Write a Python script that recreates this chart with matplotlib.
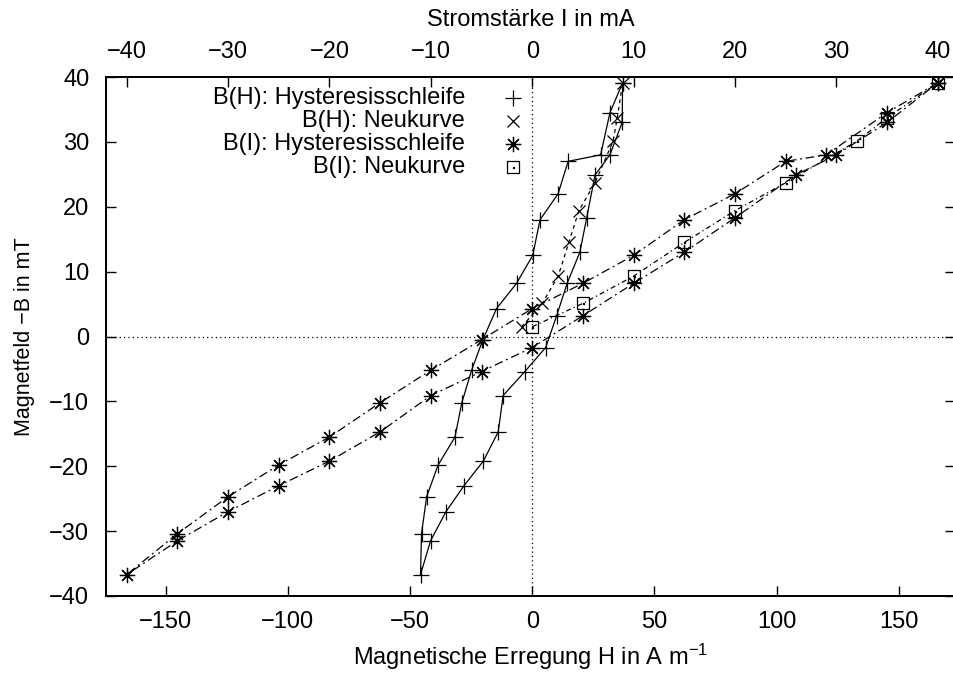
import numpy as np
import matplotlib
matplotlib.use("Agg")
import matplotlib.pyplot as plt
from matplotlib.path import Path

plt.rcParams['font.family'] = ['Liberation Sans', 'DejaVu Sans']
plt.rcParams['mathtext.fontset'] = 'custom'
plt.rcParams['mathtext.rm'] = 'Liberation Sans'
plt.rcParams['mathtext.default'] = 'regular'

# B(H) hysteresis loop (H in A/m)
h_loop = [37.0, 31.8, 28.0, 14.7, 10.6, 3.2, 0.2, -6.4, -14.6, -20.2, -24.8,
          -28.8, -31.6, -38.5, -43.2, -45.3, -45.7, -41.6, -35.3, -27.9, -20.0,
          -13.9, -11.9, -3.0, 5.5, 10.0, 14.3, 19.5, 22.3, 25.7, 31.8, 36.8, 37.0]
# B(I) hysteresis loop (I in mA)
i_loop = [40, 35, 29, 25, 20, 15, 10, 5, 0, -5, -10, -15, -20, -25, -30, -35,
          -40, -35, -30, -25, -20, -15, -10, -5, 0, 5, 10, 15, 20, 26, 30, 35, 40]
# measured field -B in mT (same for both loop plots)
b_loop = [39.1, 34.5, 28.0, 27.0, 22.0, 18.0, 12.5, 8.2, 4.3, -0.5, -5.2,
          -10.2, -15.5, -19.8, -24.7, -30.4, -36.7, -31.5, -27.0, -23.0, -19.2,
          -14.7, -9.1, -5.4, -1.7, 3.2, 8.2, 13.0, 18.3, 24.9, 28.0, 33.0, 39.1]

# virgin curve
h_virgin = [-4.3, 4.1, 10.6, 15.0, 19.1, 25.7, 33.1, 34.8, 37.0]
i_virgin = [0, 5, 10, 15, 20, 25, 32, 35, 40]
b_virgin = [1.5, 5.1, 9.3, 14.5, 19.4, 23.7, 30.1, 33.7, 39.1]

labels = ["B(H): Hysteresisschleife", "B(H): Neukurve",
          "B(I): Hysteresisschleife", "B(I): Neukurve"]

# square with a dot in the middle (gnuplot style)
sq = Path.make_compound_path(
    Path([(-1, -1), (1, -1), (1, 1), (-1, 1), (-1, -1)],
         [Path.MOVETO, Path.LINETO, Path.LINETO, Path.LINETO, Path.CLOSEPOLY]),
    Path([(-0.08, -0.08), (0.08, -0.08), (0.08, 0.08), (-0.08, 0.08), (-0.08, -0.08)],
         [Path.MOVETO, Path.LINETO, Path.LINETO, Path.LINETO, Path.CLOSEPOLY]))
star = (8, 2, 0)

styles = [
    dict(marker='+', ms=11, ls='-'),
    dict(marker='x', ms=8, ls=(0, (3, 3))),
    dict(marker=star, ms=11, ls=(0, (7, 3, 1.5, 3))),
    dict(marker=sq, ms=9, ls=(0, (4, 2.5, 1, 2.5))),
]

fig = plt.figure(figsize=(9.54, 6.73), dpi=100)
ax = fig.add_axes([106 / 954, 77 / 673, 849 / 954, 519 / 673])
ax2 = ax.twiny()

ax.axhline(0, color='black', lw=0.9, ls=(0, (1, 2.5)))
ax.axvline(0, color='black', lw=0.9, ls=(0, (1, 2.5)))

common = dict(color='black', lw=0.9, mfc='none', mew=0.9)
ax.plot(h_loop, b_loop, **styles[0], **common)
ax.plot(h_virgin, b_virgin, **styles[1], **common)
ax2.plot(i_loop, b_loop, **styles[2], **common)
ax2.plot(i_virgin, b_virgin, **styles[3], **common)

ax.set_xlim(-174.4, 173.0)
ax2.set_xlim(-42.04, 41.7)
ax.set_ylim(-40, 40)

ax.set_xticks([-150, -100, -50, 0, 50, 100, 150])
ax2.set_xticks([-40, -30, -20, -10, 0, 10, 20, 30, 40])
ax.set_yticks(np.arange(-40, 41, 10))

fs = 17
ax.tick_params(axis='x', which='both', direction='in', length=7, width=1,
               labelsize=fs, pad=11, top=False)
ax.tick_params(axis='y', direction='in', length=7, width=1, labelsize=fs,
               pad=12, right=True)
ax2.tick_params(axis='x', direction='in', length=7, width=1, labelsize=fs, pad=10)
for a in (ax, ax2):
    for s in a.spines.values():
        s.set_linewidth(1.3)

ax.set_xlabel("Magnetische Erregung H in A m$^{-1}$", fontsize=fs, labelpad=6)
ax2.set_xlabel("Stromstärke I in mA", fontsize=fs, labelpad=11)
ax.set_ylabel("Magnetfeld −B in mT", fontsize=15.5, labelpad=10)

# gnuplot-like key: right aligned text, point sample on the right
key_y = [0.9595, 0.9152, 0.8709, 0.8266]
for lab, st, ky in zip(labels, styles, key_y):
    ax.text(0.4229, ky, lab, transform=ax.transAxes, ha='right', va='center',
            fontsize=fs)
    ax.plot([0.4794], [ky], transform=ax.transAxes, marker=st['marker'],
            ms=st['ms'], ls='none', color='black', mfc='none', mew=0.9,
            clip_on=False)

fig.savefig("out.png", dpi=100)
